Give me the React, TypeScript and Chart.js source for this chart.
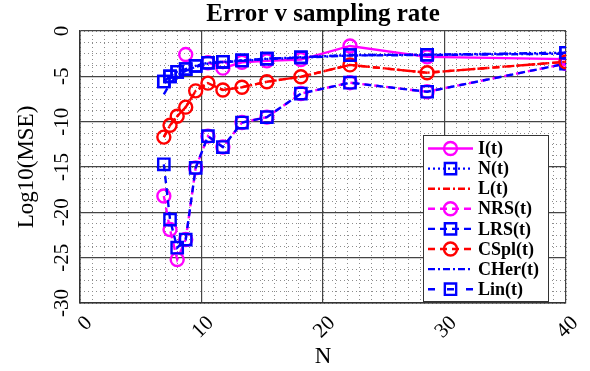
import React, { useEffect, useRef } from "react";
import { Chart, registerables } from "chart.js";

Chart.register(...registerables);

// ---- data ----
const sampleN = [6.9, 7.41, 8.0, 8.7, 9.52, 10.53, 11.76, 13.33, 15.38, 18.18, 22.22, 28.57, 40];
const seriesI = [null, null, null, -2.6, null, -3.5, -4.1, -3.45, -3.3, -3.15, -1.65, -2.85, -3.1];
const seriesN = [-5.57, -5.0, -4.5, -4.2, -3.85, -3.5, -3.4, -3.25, -3.05, -2.9, -2.65, -2.62, -2.4];
const seriesL = [-11.7, -10.4, -9.4, -8.4, -6.6, -5.75, -6.5, -6.2, -5.6, -5.05, -3.74, -4.6, -3.4];
const seriesNRS = [-18.2, -21.9, -25.2, -23.0, -15.1, -11.6, -12.8, -10.1, -9.5, -6.9, -5.7, -6.7, -3.6];
const seriesLRS = [-14.7, -20.8, -23.9, -23.0, -15.1, -11.6, -12.8, -10.1, -9.5, -6.9, -5.7, -6.7, -3.6];
const seriesCSpl = [-11.7, -10.4, -9.4, -8.4, -6.6, -5.75, -6.5, -6.2, -5.6, -5.05, -3.74, -4.6, -3.4];
const seriesCHer = [-7.0, -5.8, -4.9, -4.4, -3.95, -3.6, -3.45, -3.3, -3.1, -2.95, -2.7, -2.65, -2.5];
const seriesLin = [-5.57, -5.0, -4.5, -4.2, -3.85, -3.5, -3.4, -3.25, -3.05, -2.9, -2.65, -2.62, -2.4];

const seriesNames = ["I(t)", "N(t)", "L(t)", "NRS(t)", "LRS(t)", "CSpl(t)", "CHer(t)", "Lin(t)"];
const xTicks = [0, 10, 20, 30, 40];
const yTicks = [0, -5, -10, -15, -20, -25, -30];
const titleText = "Error v sampling rate";
const xTitle = "N";
const yTitle = "Log10(MSE)";

const MAGENTA = "#ff00ff";
const BLUE = "#0000ff";
const RED = "#ff0000";
const SERIF = '"Liberation Serif", "Times New Roman", serif';

const DASHED = [7, 5];
const DASHDOT = [7, 3, 2, 3];
const DOTTED = [2, 3];
const LINDASH = [7, 12];
const LINE_W = 2.4;

function pts(values: (number | null)[]) {
  return sampleN.map((x, i) => ({ x, y: values[i] }));
}

function drawMarker(ctx: CanvasRenderingContext2D, style: string, x: number, y: number, r: number, color: string) {
  ctx.save();
  ctx.setLineDash([]);
  ctx.strokeStyle = color;
  ctx.lineWidth = LINE_W;
  ctx.beginPath();
  if (style === "circle") {
    ctx.arc(x, y, r, 0, Math.PI * 2);
  } else {
    const s = r * Math.SQRT1_2;
    ctx.rect(x - s, y - s, 2 * s, 2 * s);
  }
  ctx.stroke();
  ctx.restore();
}

const decorPlugin = {
  id: "decor",
  afterDraw(chart: any) {
    const ctx: CanvasRenderingContext2D = chart.ctx;
    const area = chart.chartArea;
    const xs = chart.scales.x;
    const ys = chart.scales.y;
    ctx.save();
    ctx.fillStyle = "#000";

    // title
    ctx.font = `bold 25px ${SERIF}`;
    ctx.textAlign = "center";
    ctx.textBaseline = "alphabetic";
    ctx.fillText(titleText, (area.left + area.right) / 2, 21);

    // y tick labels (rotated)
    ctx.font = `21px ${SERIF}`;
    yTicks.forEach((v) => {
      const py = ys.getPixelForValue(v);
      ctx.save();
      ctx.translate(area.left - 18, py);
      ctx.rotate(-Math.PI / 2);
      ctx.textAlign = "center";
      ctx.textBaseline = "middle";
      ctx.fillText(String(v), 0, 0);
      ctx.restore();
    });

    // x tick labels (rotated 45)
    xTicks.forEach((v) => {
      const px = xs.getPixelForValue(v);
      ctx.save();
      ctx.translate(px + 9, area.bottom + 17);
      ctx.rotate(-Math.PI / 4);
      ctx.textAlign = "right";
      ctx.textBaseline = "middle";
      ctx.fillText(String(v), 0, 0);
      ctx.restore();
    });

    // axis titles
    ctx.font = `23px ${SERIF}`;
    ctx.textAlign = "center";
    ctx.textBaseline = "middle";
    ctx.fillText(xTitle, (area.left + area.right) / 2, 357);
    ctx.save();
    ctx.translate(27, (area.top + area.bottom) / 2);
    ctx.rotate(-Math.PI / 2);
    ctx.fillText(yTitle, 0, 0);
    ctx.restore();

    // legend
    const lx = 423, ly = 135, lw = 125, lh = 166;
    ctx.fillStyle = "#fff";
    ctx.fillRect(lx, ly, lw, lh);
    ctx.strokeStyle = "#333";
    ctx.lineWidth = 1;
    ctx.setLineDash([]);
    ctx.strokeRect(lx + 0.5, ly + 0.5, lw, lh);
    ctx.font = `bold 18px ${SERIF}`;
    ctx.textAlign = "left";
    ctx.textBaseline = "middle";
    chart.data.datasets.forEach((ds: any, i: number) => {
      const cy = ly + 13.5 + i * 20.1;
      ctx.save();
      ctx.strokeStyle = ds.borderColor;
      ctx.lineWidth = LINE_W;
      ctx.setLineDash(ds.borderDash || []);
      ctx.beginPath();
      ctx.moveTo(lx + 5, cy);
      ctx.lineTo(lx + 50, cy);
      ctx.stroke();
      ctx.restore();
      if (ds.pointRadius > 0) {
        drawMarker(ctx, ds.pointStyle, lx + 27.5, cy, ds.pointRadius, ds.borderColor);
      }
      ctx.fillStyle = "#000";
      ctx.fillText(ds.label, lx + 55, cy + 1);
    });
    ctx.restore();
  },
};

function makeDataset(label: string, values: (number | null)[], color: string, dash: number[], marker: string | null, idx: number) {
  return {
    label,
    data: pts(values),
    borderColor: color,
    backgroundColor: "transparent",
    borderWidth: LINE_W,
    borderDash: dash,
    pointStyle: marker || "circle",
    pointRadius: marker ? (marker === "rect" ? 8 : 6.5) : 0,
    pointBorderWidth: LINE_W,
    pointBorderColor: color,
    pointBackgroundColor: "transparent",
    spanGaps: false,
    tension: 0,
    order: -idx,
  };
}

export default function App() {
  const canvasRef = useRef<HTMLCanvasElement | null>(null);

  useEffect(() => {
    if (!canvasRef.current) return;
    const datasets = [
      makeDataset(seriesNames[0], seriesI, MAGENTA, [], "circle", 0),
      makeDataset(seriesNames[1], seriesN, BLUE, DOTTED, "rect", 1),
      makeDataset(seriesNames[2], seriesL, RED, DASHDOT, null, 2),
      makeDataset(seriesNames[3], seriesNRS, MAGENTA, DASHED, "circle", 3),
      makeDataset(seriesNames[4], seriesLRS, BLUE, DASHED, "rect", 4),
      makeDataset(seriesNames[5], seriesCSpl, RED, DASHED, "circle", 5),
      makeDataset(seriesNames[6], seriesCHer, BLUE, DASHDOT, null, 6),
      makeDataset(seriesNames[7], seriesLin, BLUE, LINDASH, "rect", 7),
    ];
    const chart = new Chart(canvasRef.current, {
      type: "line",
      data: { datasets: datasets as any },
      plugins: [decorPlugin],
      options: {
        animation: false,
        responsive: false,
        events: [],
        layout: { padding: { left: 80, top: 31, right: 24, bottom: 68 } },
        plugins: {
          legend: { display: false },
          title: { display: false },
          tooltip: { enabled: false },
        },
        scales: {
          xMinor: {
            type: "linear",
            position: "bottom",
            min: 0,
            max: 40,
            z: -2,
            ticks: { display: false, stepSize: 1 },
            grid: { color: "#8c8c8c", lineWidth: 1, drawTicks: false },
            border: { display: false, dash: [1, 3] },
          },
          yMinor: {
            type: "linear",
            position: "left",
            min: -30,
            max: 0,
            z: -2,
            ticks: { display: false, stepSize: 1.25 },
            grid: { color: "#8c8c8c", lineWidth: 1, drawTicks: false },
            border: { display: false, dash: [1, 3] },
          },
          x: {
            type: "linear",
            position: "bottom",
            min: 0,
            max: 40,
            z: -1,
            ticks: { display: false, stepSize: 10 },
            grid: { color: "#444", lineWidth: 1.2, drawTicks: false },
            border: { display: true, color: "#333", width: 1.5 },
          },
          y: {
            type: "linear",
            position: "left",
            min: -30,
            max: 0,
            z: -1,
            ticks: { display: false, stepSize: 5 },
            grid: { color: "#444", lineWidth: 1.2, drawTicks: false },
            border: { display: true, color: "#333", width: 1.5 },
          },
        },
      } as any,
    });
    return () => chart.destroy();
  }, []);

  return (
    <div style={{ position: "fixed", left: 0, top: 0, width: 590, height: 371, background: "#fff" }}>
      <canvas ref={canvasRef} width={590} height={371} style={{ display: "block" }} />
    </div>
  );
}
